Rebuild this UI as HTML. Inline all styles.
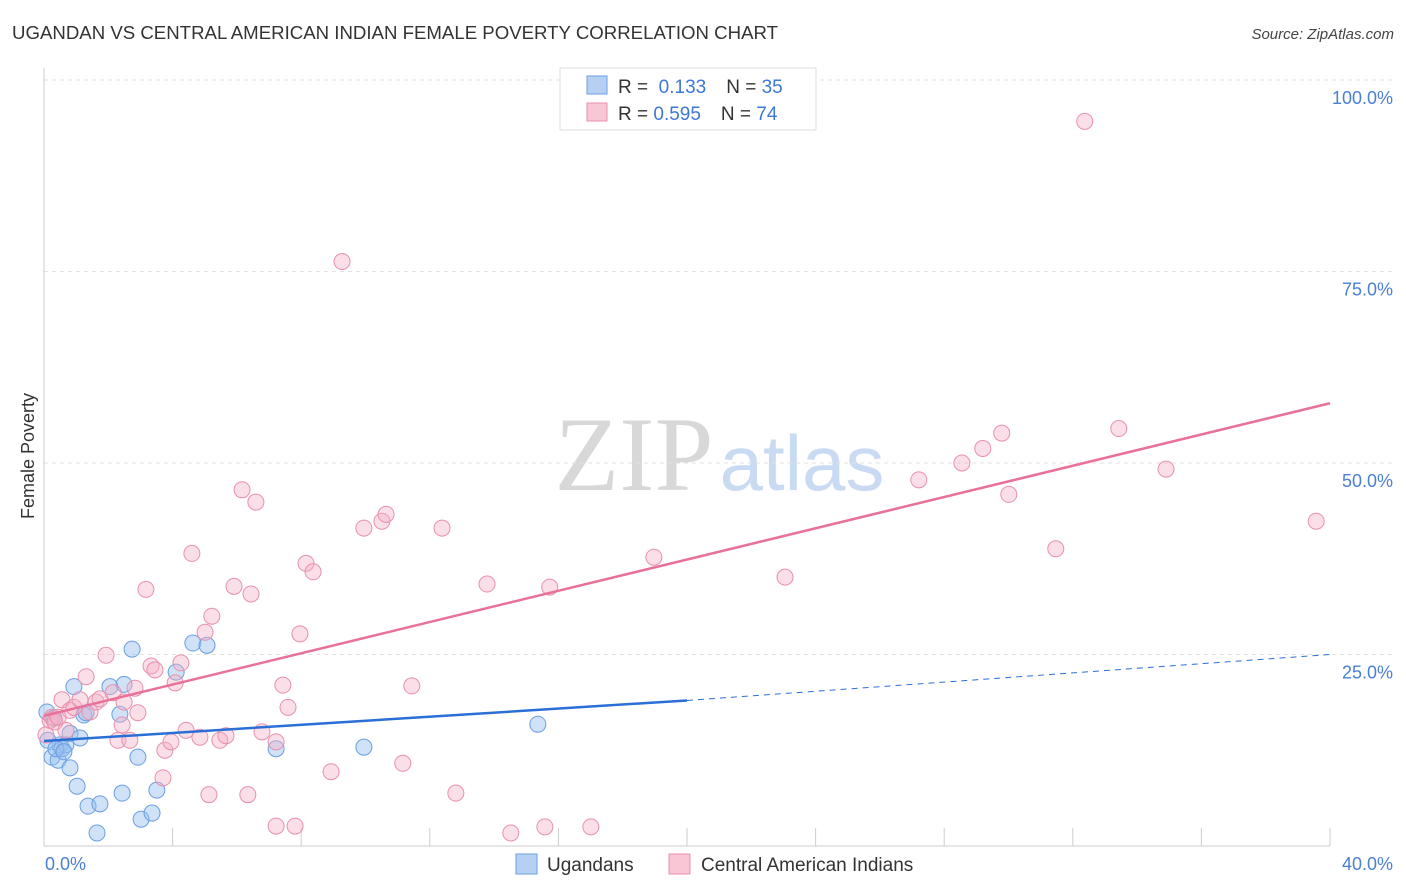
<!DOCTYPE html>
<html><head><meta charset="utf-8"><style>
body{margin:0;background:#fff;font-family:"Liberation Sans",sans-serif}
svg{display:block}
</style></head><body>
<svg width="1406" height="892" viewBox="0 0 1406 892" xmlns="http://www.w3.org/2000/svg" font-family="Liberation Sans, sans-serif">
<text x="12" y="39" font-size="18" fill="#333" textLength="766" lengthAdjust="spacingAndGlyphs">UGANDAN VS CENTRAL AMERICAN INDIAN FEMALE POVERTY CORRELATION CHART</text>
<text x="1394" y="39" font-size="15" fill="#444" text-anchor="end" font-style="italic">Source: ZipAtlas.com</text>
<g>
<text x="634" y="490" font-size="106" fill="#d8d8d8" font-family="Liberation Serif, serif" text-anchor="middle">ZIP</text>
<text x="802" y="490" font-size="78" fill="#c9daf3" text-anchor="middle">atlas</text>
</g>
<g id="grid"></g>
<g id="axes"></g>
<g id="marks"></g>
<text transform="translate(34,456) rotate(-90)" font-size="18" fill="#333" text-anchor="middle">Female Poverty</text>
<g>
<rect x="560" y="68" width="256" height="62" fill="#fff" stroke="#ddd"/>
<rect x="587" y="76" width="20" height="18" fill="#b5d0f3" stroke="#6a9fe0"/>
<rect x="587" y="103" width="20" height="18" fill="#f8c6d5" stroke="#e890ab"/>
<text x="618" y="93" font-size="19" fill="#333">R = <tspan fill="#3d78d6">&#160;0.133</tspan><tspan dx="20">N = </tspan><tspan fill="#3d78d6">35</tspan></text>
<text x="618" y="120" font-size="19" fill="#333">R = <tspan fill="#3d78d6">0.595</tspan><tspan dx="20">N = </tspan><tspan fill="#3d78d6">74</tspan></text>
</g>
<g>
<rect x="516" y="854" width="21" height="20" fill="#b5d0f3" stroke="#6a9fe0"/>
<text x="547" y="871" font-size="19" fill="#333">Ugandans</text>
<rect x="669" y="854" width="21" height="20" fill="#f8c6d5" stroke="#e890ab"/>
<text x="701" y="871" font-size="19" fill="#333">Central American Indians</text>
</g>
</svg>
<script>
const blueX=[0.09,0.31,0.25,0.44,0.50,0.56,0.68,0.81,0.81,0.93,1.03,1.12,1.24,1.31,1.37,1.65,1.74,2.05,2.36,2.43,2.49,2.74,2.92,3.02,3.36,3.51,4.11,4.63,5.07,7.22,9.95,15.36,0.12,0.37,0.62];
const blueY=[17.5,16.7,11.6,11.2,13.2,12.7,13.2,14.7,10.2,20.8,7.8,14.1,17.1,17.4,5.2,1.7,5.5,20.8,17.2,6.9,21.1,25.7,11.6,3.5,4.3,7.3,22.7,26.5,26.2,12.7,12.9,15.9,13.8,12.7,12.3];
const pinkX=[0.06,0.19,0.25,0.34,0.44,0.56,0.68,0.81,0.93,1.12,1.31,1.43,1.62,1.74,1.93,2.15,2.30,2.43,2.49,2.67,2.83,2.92,3.17,3.33,3.45,3.70,3.76,3.95,4.08,4.26,4.42,4.60,4.85,5.13,5.22,5.01,5.47,5.66,5.91,6.16,6.34,6.44,6.59,6.78,7.22,7.22,7.43,7.59,7.81,7.96,8.15,8.37,8.93,9.27,9.95,10.51,10.64,11.16,11.44,12.38,12.81,13.78,14.52,15.58,15.73,17.01,18.97,23.05,27.21,28.55,29.20,29.79,30.01,31.47,32.37,33.43,34.90,39.57];
const pinkY=[14.5,16.4,16.8,16.2,16.8,19.1,15.1,17.7,18.1,19.1,22.1,17.5,18.8,19.2,24.9,20.0,13.8,15.8,18.8,13.8,20.6,17.4,33.5,23.5,23.0,8.9,12.5,13.6,21.3,23.9,15.1,38.2,14.2,6.7,30.0,27.9,13.8,14.4,33.9,46.5,6.7,32.9,44.9,14.9,2.6,13.6,21.0,18.1,2.6,27.7,36.9,35.8,9.7,76.3,41.5,42.4,43.3,10.8,20.9,41.5,6.9,34.2,1.7,2.5,33.8,2.5,37.7,35.1,47.8,50.0,51.9,53.9,45.9,38.8,94.6,54.5,49.2,42.4];
const blueTrend=[13.7,19.0,25.0];   // value at x=0, x=20, x=40
const pinkTrend=[17.0,57.8];   // value at x=0 and x=40
const yTicks=[25,50,75,100];
const yTickLabels=["25.0%","50.0%","75.0%","100.0%"];
const xTicks=[0,4,8,12,16,20,24,28,32,36,40];

const NS="http://www.w3.org/2000/svg";
const X0=44,X1=1330,Y0=846,Y100=80;
const sx=v=>X0+(v/40)*(X1-X0);
const sy=v=>Y0-(v/100)*(Y0-Y100);
function mk(tag,attrs,parent){const e=document.createElementNS(NS,tag);for(const k in attrs)e.setAttribute(k,attrs[k]);parent.appendChild(e);return e;}
const grid=document.getElementById('grid'),axes=document.getElementById('axes'),marks=document.getElementById('marks');
yTicks.forEach((t,i)=>{
  const l=mk('line',{x1:X0,x2:1394,y1:sy(t),y2:sy(t),stroke:'#e2e2e2','stroke-dasharray':'4,4'},grid);
  
  
  const tx=mk('text',{x:1393,y:sy(t)+24,'font-size':18,fill:'#4a7fd4','text-anchor':'end'},axes);
  tx.textContent=yTickLabels[i];
  
  
});
const ya=mk('line',{x1:X0,x2:X0,y1:68,y2:Y0,stroke:'#ccc'},axes);


const xa=mk('line',{x1:X0,x2:X1,y1:Y0,y2:Y0,stroke:'#ccc'},axes);


xTicks.forEach(t=>{
  const l=mk('line',{x1:sx(t),x2:sx(t),y1:Y0-18,y2:Y0,stroke:'#ccc'},axes);
  
  
});
const xl0=mk('text',{x:45,y:870,'font-size':18,fill:'#4a7fd4'},axes);xl0.textContent="0.0%";


const xl1=mk('text',{x:1393,y:870,'font-size':18,fill:'#4a7fd4','text-anchor':'end'},axes);xl1.textContent="40.0%";



blueX.forEach((x,i)=>{
  const c=mk('circle',{cx:sx(x),cy:sy(blueY[i]),r:8,fill:'rgba(150,190,240,0.45)',stroke:'#6a9fe0','stroke-width':1},marks);
  
  
});
pinkX.forEach((x,i)=>{
  const c=mk('circle',{cx:sx(x),cy:sy(pinkY[i]),r:8,fill:'rgba(245,175,198,0.4)',stroke:'#e890ab','stroke-width':1},marks);
  
  
});
const bl=mk('line',{x1:sx(0),y1:sy(blueTrend[0]),x2:sx(20),y2:sy(blueTrend[1]),stroke:'#2a6fd6','stroke-width':2.5},marks);


const bd=mk('line',{x1:sx(20),y1:sy(blueTrend[1]),x2:sx(40),y2:sy(blueTrend[2]),stroke:'#2a6fd6','stroke-width':1,'stroke-dasharray':'6,5'},marks);


const pl=mk('line',{x1:sx(0),y1:sy(pinkTrend[0]),x2:sx(40),y2:sy(pinkTrend[1]),stroke:'#e8709a','stroke-width':2.5},marks);


</script>
</body></html>
